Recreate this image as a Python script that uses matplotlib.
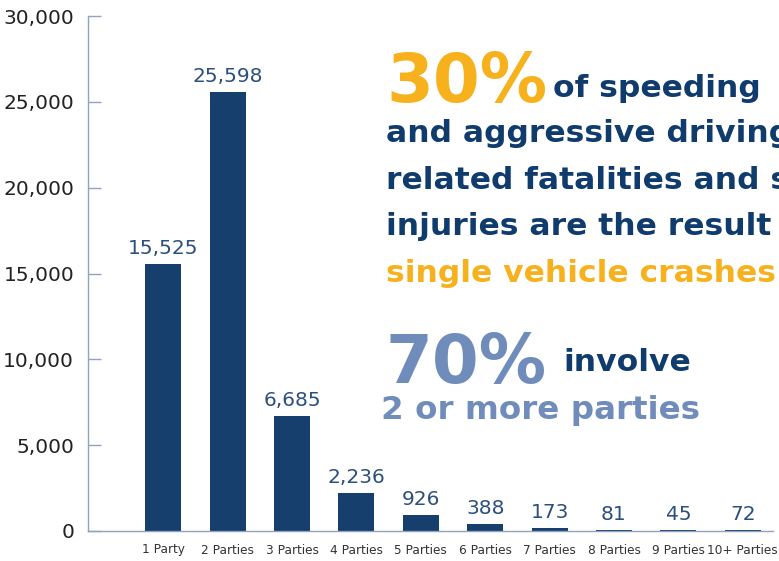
import matplotlib
matplotlib.use("Agg")
import matplotlib.pyplot as plt
from matplotlib.ticker import FuncFormatter

categories = ["1 Party", "2 Parties", "3 Parties", "4 Parties", "5 Parties",
              "6 Parties", "7 Parties", "8 Parties", "9 Parties", "10+ Parties"]
crashes = [15525, 25598, 6685, 2236, 926, 388, 173, 81, 45, 72]
y_ticks = [0, 5000, 10000, 15000, 20000, 25000, 30000]

W, H = 779, 561
fig = plt.figure(figsize=(W / 100, H / 100), dpi=100)
ax = fig.add_axes([88 / W, 1 - 531 / H, (773 - 88) / W, (531 - 16) / H])

bar_color = "#163f6e"
axis_color = "#8fa3bd"
label_color = "#2c4f7c"

x = range(len(categories))
bars = ax.bar(x, crashes, width=0.56, color=bar_color, zorder=2)
for b, v in zip(bars, crashes):
    ax.text(b.get_x() + b.get_width() / 2, v + 350, f"{v:,}",
            ha="center", va="bottom", fontsize=14.5, color=label_color)

ax.set_xlim(-1.17, 9.47)
ax.set_ylim(0, 30000)
ax.set_yticks(y_ticks)
ax.yaxis.set_major_formatter(FuncFormatter(lambda v, p: f"{int(v):,}"))
ax.set_xticks(list(x))
ax.set_xticklabels(categories, fontsize=8.7, color="#333333")
ax.tick_params(axis="x", length=0, pad=9)
ax.tick_params(axis="y", direction="in", length=9, width=1, color=axis_color,
               labelsize=14.5, labelcolor="#222222", pad=10)
for s in ["top", "right"]:
    ax.spines[s].set_visible(False)
for s in ["left", "bottom"]:
    ax.spines[s].set_color(axis_color)
    ax.spines[s].set_linewidth(1)

orange = "#f7b11c"
navy = "#0f3c6c"
steel = "#6f8cbb"

def px(xp, yp):
    return xp / W, 1 - yp / H

fb = dict(fontweight="bold", family="DejaVu Sans")
fig.text(*px(386, 102), "30%", fontsize=48.5, color=orange, va="baseline", **fb)
fig.text(*px(553, 97), "of speeding", fontsize=22.6, color=navy, va="baseline", **fb)
fig.text(*px(386, 142), "and aggressive driving", fontsize=22.6, color=navy, va="baseline", **fb)
fig.text(*px(386, 189), "related fatalities and serious", fontsize=22.6, color=navy, va="baseline", **fb)
fig.text(*px(386, 235), "injuries are the result of", fontsize=22.6, color=navy, va="baseline", **fb)
fig.text(*px(386, 282), "single vehicle crashes", fontsize=22.6, color=orange, va="baseline", **fb)
fig.text(*px(386, 383), "70%", fontsize=48.5, color=steel, va="baseline", **fb)
fig.text(*px(563, 371), "involve", fontsize=22.6, color=navy, va="baseline", **fb)
fig.text(*px(381, 419), "2 or more parties", fontsize=23.4, color=steel, va="baseline", **fb)

fig.savefig("out.png", dpi=100)
